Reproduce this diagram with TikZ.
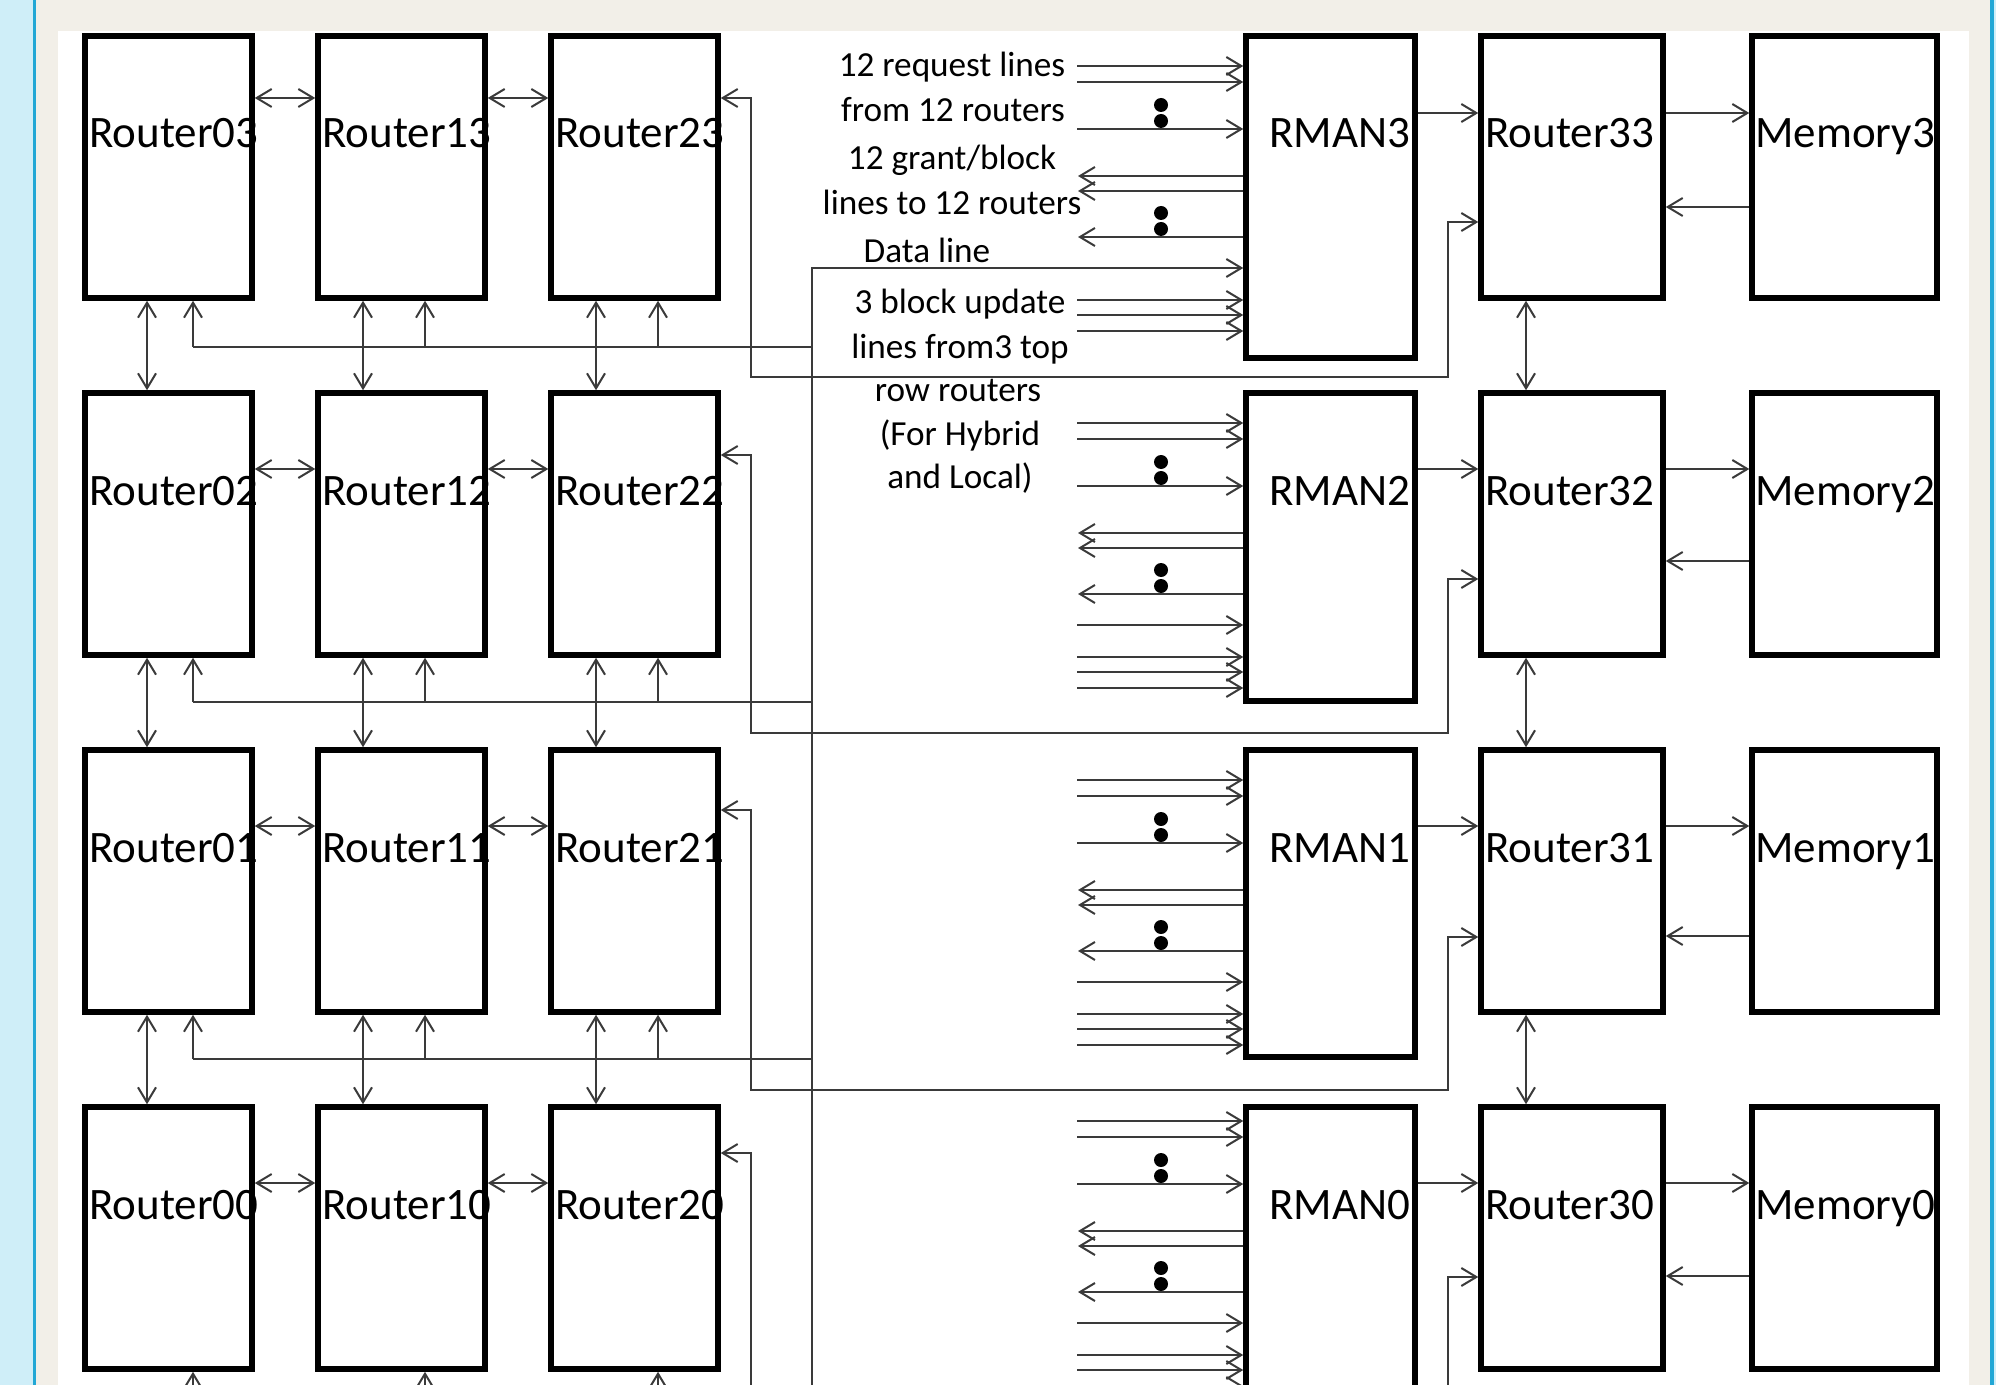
\documentclass[tikz,border=0pt]{standalone}
\usepackage{fontspec}
\setmainfont{Carlito}
\usetikzlibrary{arrows.meta}
\definecolor{skyband}{HTML}{CFEEF8}
\definecolor{edgeblue}{HTML}{22A7D5}
\definecolor{paper}{HTML}{F2EFE8}
\definecolor{wire}{HTML}{3A3A3A}
\begin{document}
\begin{tikzpicture}[x=0.5pt,y=-0.5pt,
  boxst/.style={draw=black,line width=2.75pt,fill=white,inner sep=0pt},
  conn/.style={draw=wire,line width=1pt},
  arr/.style={conn,-{Straight Barb[length=7.5pt,width=9pt]}},
  darr/.style={conn,{Straight Barb[length=7.5pt,width=9pt]}-{Straight Barb[length=7.5pt,width=9pt]}},
  lbl/.style={font=\fontsize{22.5}{27}\selectfont,anchor=base west,inner sep=0pt},
  note/.style={font=\fontsize{17.6}{21}\selectfont,anchor=base,inner sep=0pt}]
\useasboundingbox (0,0) rectangle (1996,1385);
\clip (0,0) rectangle (1996,1385);
% background
\fill[skyband] (0,0) rectangle (1996,1385);
\fill[paper] (36,0) rectangle (1990,1385);
\fill[white] (58,31) rectangle (1969,1385);
\fill[edgeblue] (33,0) rectangle (36,1385);
\fill[edgeblue] (1990,0) rectangle (1994,1385);

% boxes
\foreach \r/\t/\mh in {3/36/322,2/393/308,1/750/307,0/1107/343}{
  \node[boxst,minimum width=83.5pt,minimum height=131pt] (R0\r) at (168.5,\t+131) {};
  \node[boxst,minimum width=83.5pt,minimum height=131pt] (R1\r) at (401.5,\t+131) {};
  \node[boxst,minimum width=83.5pt,minimum height=131pt] (R2\r) at (634.5,\t+131) {};
  \node[boxst,minimum width=84.5pt,minimum height=\mh*0.5pt] (M\r) at (1330.5,\t+\mh/2) {};
  \node[boxst,minimum width=91pt,minimum height=131pt] (R3\r) at (1572,\t+131) {};
  \node[boxst,minimum width=92.5pt,minimum height=131pt] (Mem\r) at (1844.5,\t+131) {};
}

% per-row connectors
\foreach \r/\yh/\ym/\ymm/\ya/\yb/\yc/\yd in {3/98/113/207/98/222/377/347,2/469/469/561/455/579/733/702,1/826/826/936/810/937/1090/1059,0/1183/1183/1276/1153/1277/1447/1416}{
  \draw[darr] (R0\r.east |- 0,\yh) -- (R1\r.west |- 0,\yh);
  \draw[darr] (R1\r.east |- 0,\yh) -- (R2\r.west |- 0,\yh);
  \draw[arr] (M\r.east |- 0,\ym) -- (R3\r.west |- 0,\ym);
  \draw[arr] (R3\r.east |- 0,\ym) -- (Mem\r.west |- 0,\ym);
  \draw[arr] (Mem\r.west |- 0,\ymm) -- (R3\r.east |- 0,\ymm);
  \draw[darr] (R2\r.east |- 0,\ya) -| (751,\yc) -| (1448,\yb) -- (R3\r.west |- 0,\yb);
  \draw[conn] (812,\yd) -- (193,\yd);
  \draw[arr] (193,\yd) -- (R0\r.south -| 193,0);
  \draw[arr] (425,\yd) -- (R1\r.south -| 425,0);
  \draw[arr] (658,\yd) -- (R2\r.south -| 658,0);
}

% vertical links between rows
\foreach \r/\s in {3/2,2/1,1/0}{
  \draw[darr] (R0\r.south -| 147,0) -- (R0\s.north -| 147,0);
  \draw[darr] (R1\r.south -| 363,0) -- (R1\s.north -| 363,0);
  \draw[darr] (R2\r.south -| 596,0) -- (R2\s.north -| 596,0);
  \draw[darr] (R3\r.south -| 1526,0) -- (R3\s.north -| 1526,0);
}

% data line
\draw[arr] (812,1470) -- (812,268) -- (M3.west |- 0,268);

% RMAN side lines
\foreach \r/\b in {3/36,2/393,1/750,0/1091}{
  \foreach \o in {30,46,93}{\draw[arr] (1077,\b+\o) -- (M\r.west |- 0,\b+\o);}
  \foreach \o in {140,155,201}{\draw[arr] (M\r.west |- 0,\b+\o) -- (1078,\b+\o);}
  \foreach \o in {264,279,295}{\draw[arr] (1077,\b+\o) -- (M\r.west |- 0,\b+\o);}
  \fill (1161,\b+69) circle[radius=7];
  \fill (1161,\b+85) circle[radius=7];
  \fill (1161,\b+177) circle[radius=7];
  \fill (1161,\b+193) circle[radius=7];
}
\foreach \r/\b in {2/393,1/750,0/1091}{
  \draw[arr] (1077,\b+232) -- (M\r.west |- 0,\b+232);
}

% box labels
\foreach \r/\t in {3/36,2/393,1/750,0/1107}{
  \node[lbl] (LA\r) at (89,\t+112) {Router0\r};
  \node[lbl] (LB\r) at (322,\t+112) {Router1\r};
  \node[lbl] (LC\r) at (555,\t+112) {Router2\r};
  \node[lbl] (LM\r) at (1269,\t+112) {RMAN\r};
  \node[lbl] (LD\r) at (1485,\t+112) {Router3\r};
  \node[lbl] (LE\r) at (1755,\t+112) {Memory\r};
}

% notes
\node[note] (t1) at (952,77) {12 request lines};
\node[note] (t2) at (953,122) {from 12 routers};
\node[note] (t3) at (952,170) {12 grant/block};
\node[note] (t4) at (952,215) {lines to 12 routers};
\node[note] (t5) at (927,263) {Data line};
\node[note] (t6) at (960,314) {3 block update};
\node[note] (t7) at (960,358) {lines from3 top};
\node[note] (t8) at (958,401) {row routers};
\node[note] (t9) at (960,445) {(For Hybrid};
\node[note] (t10) at (960,488) {and Local)};
\end{tikzpicture}
\end{document}
